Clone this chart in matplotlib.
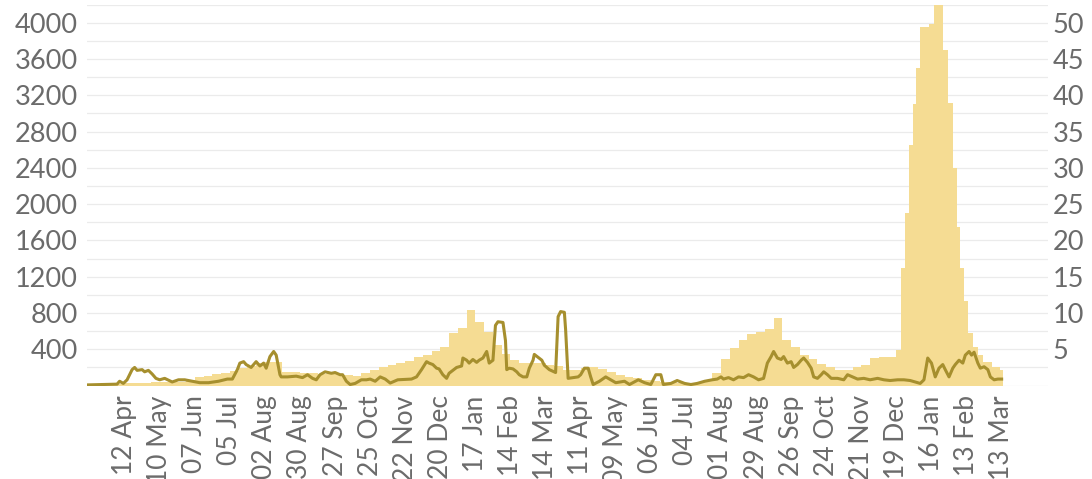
import numpy as np
import pandas as pd
import matplotlib
matplotlib.use('Agg')
import matplotlib.pyplot as plt
import matplotlib.dates as mdates

plt.rcParams['font.family'] = ['Lato', 'DejaVu Sans']

# day numbers are counted from 12 Apr 2020
day0 = pd.Timestamp('2020-04-12')

# bars: first day of each block and its daily count (left axis)
bar_day = [-28, -21, -14, -7, 0, 7, 14, 21, 28, 35,
           42, 49, 56, 63, 70, 77, 84, 91, 98, 105,
           112, 119, 126, 133, 140, 147, 154, 161, 168, 175,
           182, 189, 196, 203, 210, 217, 224, 231, 238, 245,
           252, 259, 266, 273, 280, 287, 294, 301, 308, 315,
           322, 329, 336, 343, 350, 357, 364, 371, 378, 385,
           392, 399, 406, 413, 420, 427, 434, 441, 448, 455,
           462, 469, 476, 483, 490, 497, 504, 511, 518, 525,
           532, 539, 546, 553, 560, 567, 574, 581, 588, 595,
           602, 609,
           616, 620, 623, 626, 629, 632, 635, 642, 646, 653,
           657, 661, 664, 667, 670, 673, 677, 681, 685, 692, 699]
bar_end = 701
bar_val = [5, 8, 12, 20, 25, 30, 32, 35, 35, 38,
           45, 60, 90, 110, 125, 140, 165, 195, 220, 250,
           265, 255, 150, 145, 140, 135, 130, 130, 125, 115,
           110, 140, 175, 205, 230, 250, 275, 310, 340, 380,
           430, 580, 640, 830, 700, 590, 450, 350, 280, 250,
           245, 245, 230, 215, 175, 172, 190, 200, 185, 150,
           120, 98, 80, 65, 48, 42, 38, 32, 30, 30,
           55, 140, 290, 420, 500, 570, 595, 625, 740, 500,
           430, 340, 290, 240, 200, 172, 170, 205, 225, 300,
           310, 320,
           390, 1300, 1900, 2650, 3100, 3500, 3950, 3990, 4300, 3700,
           3120, 2400, 1750, 1300, 930, 580, 430, 340, 260, 200, 170]

# line (right axis)
line_day = [-29, -6, -4, -1, 2, 6, 8, 10, 14, 16,
            19, 22, 25, 28, 32, 38, 43, 48, 54, 60,
            67, 75, 82, 86, 90, 92, 95, 97, 101, 105,
            108, 111, 113, 116, 119, 121, 124, 125, 130, 137,
            142, 146, 150, 153, 156, 160, 165, 168, 172, 174,
            177, 180, 184, 189, 193, 196, 200, 204, 208, 212,
            218, 229, 233, 237, 241, 243, 246, 249, 251, 254,
            257, 259, 262, 265, 269, 270, 273, 275, 278, 281,
            283, 286, 289, 291, 294, 296, 298, 302, 304, 305,
            307, 310, 313, 315, 318, 321, 323, 326, 327, 330,
            333, 335, 339, 344, 346, 348, 351, 352, 354, 358,
            362, 364, 367, 370, 372, 374, 379, 384, 388, 392,
            399, 403, 410, 415, 420, 424, 428, 430, 436, 441,
            447, 452, 457, 463, 469, 473, 476, 478, 482, 486,
            490, 494, 498, 502, 506, 510, 513, 516, 518, 521,
            524, 526, 529, 532, 534, 537, 540, 542, 545, 548,
            550, 553, 556, 558, 561, 564, 569, 574, 577, 581,
            585, 590, 595, 601, 606, 611, 617, 622, 627, 635,
            638, 641, 644, 647, 650, 653, 655, 658, 661, 663,
            666, 669, 671, 674, 676, 678, 681, 683, 686, 689,
            691, 694, 697, 700]
line_val = [0.1, 0.2, 0.6, 0.3, 0.8, 2.2, 2.5, 2.1, 2.2, 1.9,
            2.1, 1.6, 1.0, 0.8, 1.0, 0.5, 0.8, 0.8, 0.6, 0.4,
            0.4, 0.6, 0.9, 0.9, 2.2, 3.1, 3.3, 2.9, 2.5, 3.3,
            2.7, 3.1, 2.4, 4.0, 4.7, 4.2, 1.5, 1.2, 1.2, 1.3,
            1.1, 1.5, 1.0, 0.8, 1.5, 1.9, 1.7, 1.8, 1.5, 1.5,
            0.6, 0.15, 0.3, 0.8, 0.8, 0.9, 0.6, 1.2, 0.9, 0.35,
            0.8, 0.9, 1.2, 2.2, 3.3, 3.1, 2.9, 2.4, 2.3, 1.5,
            1.0, 1.7, 2.1, 2.5, 2.7, 3.8, 3.5, 3.1, 3.6, 3.2,
            3.5, 3.8, 4.7, 3.1, 3.5, 8.3, 8.8, 8.7, 6.2, 2.2,
            2.4, 2.3, 1.9, 1.5, 1.2, 1.2, 2.4, 3.5, 4.3, 3.9,
            3.5, 2.8, 2.2, 1.8, 9.5, 10.2, 10.1, 7.7, 1.0, 1.1,
            1.2, 1.5, 2.4, 2.4, 1.2, 0.15, 0.6, 1.2, 0.8, 0.4,
            0.6, 0.15, 0.8, 0.4, 0.15, 1.5, 1.5, 0.15, 0.3, 0.7,
            0.3, 0.15, 0.3, 0.6, 0.8, 0.9, 1.2, 0.9, 1.1, 0.8,
            1.2, 1.1, 1.5, 1.2, 0.8, 1.0, 3.1, 4.0, 4.7, 3.8,
            3.6, 4.0, 3.1, 3.3, 2.5, 2.9, 3.5, 3.8, 3.2, 2.4,
            1.2, 1.0, 1.5, 1.9, 1.5, 1.0, 1.0, 0.8, 1.5, 1.2,
            0.9, 1.0, 0.8, 1.0, 0.8, 0.7, 0.8, 0.8, 0.7, 0.3,
            0.8, 3.8, 3.1, 1.2, 2.4, 2.9, 2.2, 1.2, 2.4, 2.9,
            3.5, 3.1, 4.2, 4.7, 4.2, 4.6, 3.1, 2.4, 2.6, 2.2,
            1.2, 0.8, 0.9, 0.9]

tick_labels = ['12 Apr', '10 May', '07 Jun', '05 Jul', '02 Aug', '30 Aug', '27 Sep',
               '25 Oct', '22 Nov', '20 Dec', '17 Jan', '14 Feb', '14 Mar', '11 Apr',
               '09 May', '06 Jun', '04 Jul', '01 Aug', '29 Aug', '26 Sep', '24 Oct',
               '21 Nov', '19 Dec', '16 Jan', '13 Feb', '13 Mar']
left_ticks = list(range(0, 4201, 200))
right_ticks = [5, 10, 15, 20, 25, 30, 35, 40, 45, 50]

bar_color = '#F5DC93'
line_color = '#A68F2E'
text_color = '#6B6B6B'

t0 = mdates.date2num(day0)
bar_x = t0 + np.array(bar_day)
bar_w = np.diff(bar_day + [bar_end])
line_x = t0 + np.array(line_day)

fig = plt.figure(figsize=(10.92, 4.79), dpi=100)
ax = fig.add_axes([87 / 1092, 1 - 385.6 / 479, (1048 - 87) / 1092, 381 / 479])
ax2 = ax.twinx()

ax.bar(bar_x, bar_val, width=bar_w, align='edge', color=bar_color, linewidth=0, zorder=2)
ax2.plot(line_x, line_val, color=line_color, linewidth=2.2, solid_joinstyle='round')

ax.set_xlim(t0 - 30, t0 + 737)
ax.set_ylim(0, 4200)
ax2.set_ylim(0, 52.5)

tick_dates = pd.date_range('2020-04-12', periods=len(tick_labels), freq='28D')
ax.set_xticks(mdates.date2num(tick_dates))
ax.set_xticklabels(tick_labels, rotation=90)

ax.set_yticks(left_ticks)
ax.set_yticklabels([str(v) if v % 400 == 0 and 0 < v <= 4000 else '' for v in left_ticks])
ax2.set_yticks(right_ticks)
ax2.set_yticklabels([str(v) for v in right_ticks])

ax.grid(axis='y', color='#EBEBEB', linewidth=0.9)
ax.grid(axis='x', visible=False)
ax.set_axisbelow(True)

for a in (ax, ax2):
    for s in a.spines.values():
        s.set_visible(False)
ax.tick_params(axis='y', length=0, pad=6.5, labelsize=19.5, labelcolor=text_color)
ax.tick_params(axis='x', length=0, pad=7, labelsize=19, labelcolor=text_color)
ax2.tick_params(axis='y', length=0, pad=3.5, labelsize=19.5, labelcolor=text_color)

fig.savefig('out.png', dpi=100)
